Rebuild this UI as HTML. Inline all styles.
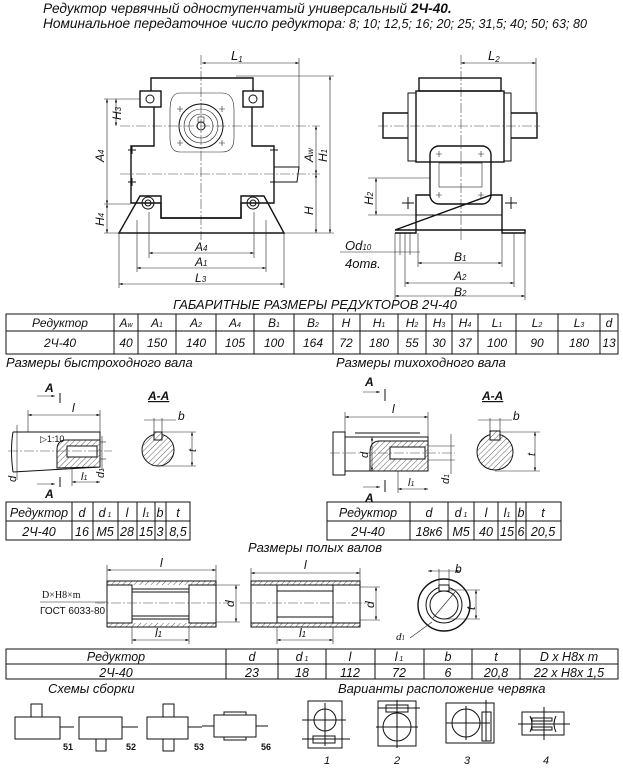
<!DOCTYPE html>
<html><head><meta charset="utf-8"><style>
html,body{margin:0;padding:0;background:#fff;}
svg{display:block;font-family:"Liberation Sans","DejaVu Sans",sans-serif;}
.t{font-style:italic;fill:#111;}
.o{fill:none;stroke:#111;stroke-width:1.4;}
.m{fill:none;stroke:#111;stroke-width:1;}
.d{fill:none;stroke:#222;stroke-width:0.6;}
.c{fill:none;stroke:#444;stroke-width:0.6;stroke-dasharray:10 2 2 2;}
.h{fill:url(#hatch);stroke:#111;stroke-width:1;}
</style></head><body>
<svg width="623" height="768" viewBox="0 0 623 768" xmlns="http://www.w3.org/2000/svg">
<defs>
<pattern id="hatch" width="4" height="4" patternUnits="userSpaceOnUse" patternTransform="rotate(45)">
<rect width="4" height="4" fill="#fff"/><line x1="0" y1="0" x2="0" y2="4" stroke="#333" stroke-width="0.8"/></pattern>
<marker id="a" markerWidth="6" markerHeight="4" refX="6" refY="2" orient="auto-start-reverse"><path d="M0,0L6,2L0,4z" fill="#111"/></marker>
</defs>

<!-- Titles -->
<text x="43" y="13" class="t" font-size="13.7">Редуктор червячный одноступенчатый универсальный <tspan font-weight="bold">2Ч-40.</tspan></text>
<text x="43" y="28" class="t" font-size="13.7">Номинальное передаточное число редуктора<tspan font-size="12.6">: 8; 10; 12,5; 16; 20; 25; 31,5; 40; 50; 63; 80</tspan></text>

<!-- FRONT VIEW -->
<line class="c" x1="201" y1="55" x2="201" y2="240"/>
<line class="c" x1="120" y1="126" x2="320" y2="126"/>
<line class="c" x1="120" y1="174" x2="320" y2="174"/>
<path class="o" d="M151,91 V78 H253 V91"/>
<rect class="o" x="140" y="91" width="21" height="16"/>
<rect class="o" x="243" y="91" width="20" height="16"/>
<circle class="m" cx="150" cy="99" r="4"/><circle class="m" cx="253" cy="99" r="4"/>
<path class="o" d="M154,107 V146 H131 V203 H161 V218 H241 V203 H274 V146 H252 V107"/>
<path class="o" d="M119,233 L140,196 H161 V218 H241 V196 H264 L284,233 Z"/>
<circle class="m" cx="148" cy="203" r="6"/><circle class="m" cx="148" cy="203" r="3"/>
<circle class="m" cx="253" cy="203" r="6"/><circle class="m" cx="253" cy="203" r="3"/>
<line class="d" x1="137" y1="220" x2="137" y2="233"/><line class="d" x1="266" y1="220" x2="266" y2="233"/>
<path class="d" d="M180,93 H222 Q234,93 234,110 V138 Q234,152 222,152 H180 Q170,152 170,138 V110 Q170,93 180,93Z"/>
<circle class="m" cx="201" cy="126" r="22"/><circle class="d" cx="201" cy="126" r="17"/>
<circle class="d" cx="201" cy="126" r="12"/><circle class="m" cx="201" cy="126" r="4"/>
<rect class="d" x="198" y="117" width="6" height="5"/>
<path class="d" d="M177,109h6m-3,-3v6 M219,109h6m-3,-3v6 M177,143h6m-3,-3v6 M219,143h6m-3,-3v6"/>
<path class="m" d="M274,167 H299 L297,182 H274"/>
<path class="m" d="M128,182h8m-4,-4v8 M270,182h8m-4,-4v8 M128,150h8m-4,-4v8 M270,150h8m-4,-4v8"/>
<!-- front dims -->
<line class="d" x1="202" y1="63" x2="299" y2="63" marker-start="url(#a)" marker-end="url(#a)"/>
<line class="d" x1="299" y1="58" x2="299" y2="170"/>
<text x="231" y="60" class="t" font-size="13">L<tspan font-size="8" dy="2">1</tspan></text>
<line class="d" x1="236" y1="76" x2="334" y2="76"/>
<line class="d" x1="104" y1="99" x2="140" y2="99"/>
<line class="d" x1="104" y1="204" x2="131" y2="204"/>
<line class="d" x1="104" y1="233" x2="334" y2="233"/>
<line class="d" x1="116" y1="99" x2="116" y2="126" marker-start="url(#a)" marker-end="url(#a)"/>
<line class="d" x1="107" y1="99" x2="107" y2="204" marker-start="url(#a)" marker-end="url(#a)"/>
<line class="d" x1="107" y1="204" x2="107" y2="233" marker-start="url(#a)" marker-end="url(#a)"/>
<line class="d" x1="316" y1="126" x2="316" y2="174" marker-start="url(#a)" marker-end="url(#a)"/>
<line class="d" x1="330" y1="76" x2="330" y2="233" marker-start="url(#a)" marker-end="url(#a)"/>
<line class="d" x1="316" y1="174" x2="316" y2="233" marker-start="url(#a)" marker-end="url(#a)"/>
<text transform="translate(121,120) rotate(-90)" class="t" font-size="12">H<tspan font-size="8">3</tspan></text>
<text transform="translate(104,162) rotate(-90)" class="t" font-size="12">A<tspan font-size="8">4</tspan></text>
<text transform="translate(104,226) rotate(-90)" class="t" font-size="12">H<tspan font-size="8">4</tspan></text>
<text transform="translate(313,162) rotate(-90)" class="t" font-size="12">A<tspan font-size="8">w</tspan></text>
<text transform="translate(327,162) rotate(-90)" class="t" font-size="12">H<tspan font-size="8">1</tspan></text>
<text transform="translate(313,215) rotate(-90)" class="t" font-size="12">H</text>
<line class="d" x1="149" y1="212" x2="149" y2="258"/><line class="d" x1="254" y1="212" x2="254" y2="258"/>
<line class="d" x1="137" y1="233" x2="137" y2="272"/><line class="d" x1="266" y1="233" x2="266" y2="272"/>
<line class="d" x1="119" y1="233" x2="119" y2="288"/><line class="d" x1="284" y1="233" x2="284" y2="288"/>
<line class="d" x1="149" y1="253" x2="254" y2="253" marker-start="url(#a)" marker-end="url(#a)"/>
<line class="d" x1="137" y1="268" x2="266" y2="268" marker-start="url(#a)" marker-end="url(#a)"/>
<line class="d" x1="119" y1="284" x2="284" y2="284" marker-start="url(#a)" marker-end="url(#a)"/>
<text x="195" y="251" class="t" font-size="12">A<tspan font-size="8">4</tspan></text>
<text x="195" y="266" class="t" font-size="12">A<tspan font-size="8">1</tspan></text>
<text x="195" y="282" class="t" font-size="12">L<tspan font-size="8">3</tspan></text>

<!-- SIDE VIEW -->
<line class="c" x1="461" y1="55" x2="461" y2="240"/>
<line class="c" x1="378" y1="126" x2="540" y2="126"/>
<rect class="o" x="419" y="78" width="82" height="13"/>
<rect class="o" x="416" y="91" width="88" height="71"/>
<rect class="m" x="408" y="93" width="8" height="68"/><rect class="m" x="504" y="93" width="7" height="68"/>
<path class="o" d="M408,113 H383 V138 H408 M511,113 H537 V138 H511"/>
<rect class="o" x="430" y="146" width="61" height="58" rx="9" fill="#fff"/>
<rect class="d" x="439" y="163" width="43" height="24"/>
<path class="d" d="M436,154h6m-3,-3v6 M478,154h6m-3,-3v6 M436,195h6m-3,-3v6 M478,195h6m-3,-3v6"/>
<path class="o" d="M395,233 H416 V195 H430 M491,195 H502 V233 H525 V230 H395 Z"/>
<line class="m" x1="416" y1="215" x2="502" y2="215"/>
<path class="m" d="M402,203h12m-6,-6v12 M505,203h12m-6,-6v12"/>
<line class="d" x1="461" y1="63" x2="536" y2="63" marker-start="url(#a)" marker-end="url(#a)"/>
<line class="d" x1="536" y1="58" x2="536" y2="112"/>
<text x="488" y="60" class="t" font-size="13">L<tspan font-size="8" dy="2">2</tspan></text>
<line class="d" x1="368" y1="178" x2="430" y2="178"/><line class="d" x1="368" y1="215" x2="416" y2="215"/>
<line class="d" x1="376" y1="178" x2="376" y2="215" marker-start="url(#a)" marker-end="url(#a)"/>
<text transform="translate(373,205) rotate(-90)" class="t" font-size="12">H<tspan font-size="8">2</tspan></text>
<line class="d" x1="418" y1="233" x2="418" y2="267"/><line class="d" x1="502" y1="233" x2="502" y2="267"/>
<line class="d" x1="405" y1="233" x2="405" y2="287"/><line class="d" x1="514" y1="233" x2="514" y2="287"/>
<line class="d" x1="395" y1="233" x2="395" y2="300"/><line class="d" x1="525" y1="233" x2="525" y2="300"/>
<line class="d" x1="400" y1="233" x2="400" y2="255"/><line class="d" x1="410" y1="233" x2="410" y2="255"/>
<line class="d" x1="340" y1="252" x2="420" y2="252"/>
<line class="d" x1="418" y1="263" x2="502" y2="263" marker-start="url(#a)" marker-end="url(#a)"/>
<line class="d" x1="405" y1="283" x2="514" y2="283" marker-start="url(#a)" marker-end="url(#a)"/>
<line class="d" x1="395" y1="296" x2="525" y2="296" marker-start="url(#a)" marker-end="url(#a)"/>
<text x="454" y="261" class="t" font-size="12">B<tspan font-size="8">1</tspan></text>
<text x="454" y="280" class="t" font-size="12">A<tspan font-size="8">2</tspan></text>
<text x="454" y="296" class="t" font-size="12">B<tspan font-size="8">2</tspan></text>
<text x="345" y="250" class="t" font-size="13">Od<tspan font-size="8">10</tspan></text>
<text x="345" y="268" class="t" font-size="13">4отв.</text>

<!-- TABLE 1 -->
<text x="315" y="309" class="t" font-size="13" text-anchor="middle">ГАБАРИТНЫЕ РАЗМЕРЫ РЕДУКТОРОВ 2Ч-40</text>
<rect class="m" x="6" y="314" width="612" height="40"/>
<line class="m" x1="6" y1="331" x2="618" y2="331"/>
<g class="m">
<line x1="114" y1="314" x2="114" y2="354"/><line x1="138" y1="314" x2="138" y2="354"/><line x1="176" y1="314" x2="176" y2="354"/>
<line x1="216" y1="314" x2="216" y2="354"/><line x1="254" y1="314" x2="254" y2="354"/><line x1="294" y1="314" x2="294" y2="354"/>
<line x1="333" y1="314" x2="333" y2="354"/><line x1="360" y1="314" x2="360" y2="354"/><line x1="398" y1="314" x2="398" y2="354"/>
<line x1="426" y1="314" x2="426" y2="354"/><line x1="452" y1="314" x2="452" y2="354"/><line x1="478" y1="314" x2="478" y2="354"/>
<line x1="516" y1="314" x2="516" y2="354"/><line x1="558" y1="314" x2="558" y2="354"/><line x1="600" y1="314" x2="600" y2="354"/>
</g>
<g class="t" font-size="12" text-anchor="middle">
<text x="60" y="327">Редуктор</text><text x="126" y="327">A<tspan font-size="7">w</tspan></text><text x="157" y="327">A<tspan font-size="7">1</tspan></text>
<text x="196" y="327">A<tspan font-size="7">2</tspan></text><text x="235" y="327">A<tspan font-size="7">4</tspan></text><text x="274" y="327">B<tspan font-size="7">1</tspan></text>
<text x="313" y="327">B<tspan font-size="7">2</tspan></text><text x="346" y="327">H</text><text x="379" y="327">H<tspan font-size="7">1</tspan></text>
<text x="412" y="327">H<tspan font-size="7">2</tspan></text><text x="439" y="327">H<tspan font-size="7">3</tspan></text><text x="465" y="327">H<tspan font-size="7">4</tspan></text>
<text x="497" y="327">L<tspan font-size="7">1</tspan></text><text x="537" y="327">L<tspan font-size="7">2</tspan></text><text x="579" y="327">L<tspan font-size="7">3</tspan></text>
<text x="609" y="327">d</text>
<text x="60" y="347">2Ч-40</text><text x="126" y="347">40</text><text x="157" y="347">150</text><text x="196" y="347">140</text>
<text x="235" y="347">105</text><text x="274" y="347">100</text><text x="313" y="347">164</text><text x="346" y="347">72</text>
<text x="379" y="347">180</text><text x="412" y="347">55</text><text x="439" y="347">30</text><text x="465" y="347">37</text>
<text x="497" y="347">100</text><text x="537" y="347">90</text><text x="579" y="347">180</text><text x="609" y="347">13</text>
</g>

<text x="6" y="367" class="t" font-size="13">Размеры быстроходного вала</text>
<text x="336" y="367" class="t" font-size="13">Размеры тихоходного вала</text>

<!-- fast shaft -->
<text x="45" y="392" class="t" font-size="12" font-weight="bold">A</text>
<line class="d" x1="37" y1="396" x2="55" y2="396" marker-end="url(#a)"/><line class="m" x1="60" y1="393" x2="60" y2="403"/>
<text x="45" y="498" class="t" font-size="12" font-weight="bold">A</text>
<line class="d" x1="37" y1="484" x2="55" y2="484" marker-end="url(#a)"/><line class="m" x1="60" y1="477" x2="60" y2="487"/>
<line class="d" x1="28" y1="415" x2="100" y2="415" marker-start="url(#a)" marker-end="url(#a)"/>
<line class="d" x1="28" y1="410" x2="28" y2="432"/><line class="d" x1="100" y1="410" x2="100" y2="432"/>
<text x="72" y="412" class="t" font-size="12">l</text>
<path class="m" d="M13,432 H100 V467 L13,472"/>
<path class="m" d="M13,432 Q10,450 13,472"/>
<path class="h" d="M66,440 H100 V467 L57,468 V450 Q57,440 66,440Z"/>
<rect x="67" y="446" width="30" height="11" fill="#fff" stroke="#111" stroke-width="1"/>
<line class="c" x1="8" y1="451" x2="112" y2="451"/>
<text x="40" y="442" font-size="9" fill="#111">▷1:10</text>
<line class="d" x1="100" y1="442" x2="106" y2="442"/><line class="d" x1="100" y1="459" x2="106" y2="459"/>
<line class="d" x1="102" y1="436" x2="102" y2="470"/>
<text transform="translate(104,478) rotate(-90)" class="t" font-size="11">d<tspan font-size="7">1</tspan></text>
<line class="d" x1="17" y1="425" x2="17" y2="480"/>
<text transform="translate(16,482) rotate(-90)" class="t" font-size="11">d</text>
<line class="d" x1="72" y1="482" x2="100" y2="482" marker-start="url(#a)" marker-end="url(#a)"/>
<line class="d" x1="72" y1="468" x2="72" y2="486"/>
<text x="81" y="480" class="t" font-size="11">l<tspan font-size="7">1</tspan></text>
<text x="148" y="400" class="t" font-size="12" font-weight="bold" text-decoration="underline">A-A</text>
<circle class="h" cx="158" cy="450" r="16"/>
<rect x="154" y="432" width="8" height="8" class="h"/>
<line class="d" x1="144" y1="420" x2="176" y2="420"/><text x="178" y="420" class="t" font-size="12">b</text>
<line class="d" x1="154" y1="418" x2="154" y2="432"/><line class="d" x1="162" y1="418" x2="162" y2="432"/>
<line class="d" x1="162" y1="432" x2="196" y2="432"/><line class="d" x1="158" y1="466" x2="196" y2="466"/>
<line class="d" x1="192" y1="432" x2="192" y2="466" marker-start="url(#a)" marker-end="url(#a)"/>
<text transform="translate(196,452) rotate(-90)" class="t" font-size="11">t</text>
<!-- fast table -->
<rect class="m" x="6" y="502" width="184" height="38"/><line class="m" x1="6" y1="521" x2="190" y2="521"/>
<g class="m"><line x1="72" y1="502" x2="72" y2="540"/><line x1="93" y1="502" x2="93" y2="540"/><line x1="118" y1="502" x2="118" y2="540"/>
<line x1="137" y1="502" x2="137" y2="540"/><line x1="155" y1="502" x2="155" y2="540"/><line x1="166" y1="502" x2="166" y2="540"/></g>
<g class="t" font-size="12.5" text-anchor="middle">
<text x="39" y="517">Редуктор</text><text x="82" y="517">d</text><text x="105" y="517">d<tspan font-size="7"> 1</tspan></text><text x="127" y="517">l</text>
<text x="146" y="517">l<tspan font-size="7">1</tspan></text><text x="160" y="517">b</text><text x="178" y="517">t</text>
<text x="39" y="536">2Ч-40</text><text x="82" y="536">16</text><text x="105" y="536">M5</text><text x="127" y="536">28</text>
<text x="146" y="536">15</text><text x="160" y="536">3</text><text x="178" y="536">8,5</text></g>

<!-- slow shaft -->
<text x="365" y="386" class="t" font-size="12" font-weight="bold">A</text>
<line class="d" x1="363" y1="392" x2="380" y2="392" marker-end="url(#a)"/><line class="m" x1="385" y1="389" x2="385" y2="401"/>
<text x="365" y="502" class="t" font-size="12" font-weight="bold">A</text>
<line class="d" x1="363" y1="487" x2="380" y2="487" marker-end="url(#a)"/><line class="m" x1="385" y1="480" x2="385" y2="492"/>
<line class="d" x1="345" y1="417" x2="428" y2="417" marker-start="url(#a)" marker-end="url(#a)"/>
<line class="d" x1="345" y1="412" x2="345" y2="432"/><line class="d" x1="428" y1="412" x2="428" y2="437"/>
<text x="392" y="413" class="t" font-size="12">l</text>
<rect class="m" x="333" y="432" width="12" height="43"/>
<rect class="m" x="345" y="437" width="83" height="34"/>
<line class="m" x1="355" y1="433" x2="420" y2="433"/>
<path class="h" d="M380,441 H428 V471 H370 V452 Q370,441 380,441Z"/>
<rect x="390" y="447" width="35" height="12" fill="#fff" stroke="#111" stroke-width="1"/>
<line class="c" x1="330" y1="453" x2="455" y2="453"/>
<line class="d" x1="372" y1="437" x2="372" y2="471" marker-start="url(#a)" marker-end="url(#a)"/>
<text transform="translate(368,458) rotate(-90)" class="t" font-size="11">d</text>
<line class="d" x1="428" y1="446" x2="455" y2="446"/><line class="d" x1="428" y1="460" x2="455" y2="460"/>
<line class="d" x1="451" y1="434" x2="451" y2="474"/>
<text transform="translate(449,484) rotate(-90)" class="t" font-size="11">d<tspan font-size="7">1</tspan></text>
<line class="d" x1="398" y1="489" x2="428" y2="489" marker-start="url(#a)" marker-end="url(#a)"/>
<line class="d" x1="398" y1="471" x2="398" y2="493"/>
<text x="408" y="486" class="t" font-size="11">l<tspan font-size="7">1</tspan></text>
<text x="482" y="400" class="t" font-size="12" font-weight="bold" text-decoration="underline">A-A</text>
<circle class="h" cx="495" cy="452" r="18"/>
<rect x="490" y="431" width="10" height="9" class="h"/>
<line class="d" x1="478" y1="420" x2="512" y2="420"/><text x="513" y="420" class="t" font-size="12">b</text>
<line class="d" x1="490" y1="418" x2="490" y2="431"/><line class="d" x1="500" y1="418" x2="500" y2="431"/>
<line class="d" x1="500" y1="432" x2="540" y2="432"/><line class="d" x1="495" y1="471" x2="540" y2="471"/>
<line class="d" x1="535" y1="432" x2="535" y2="471" marker-start="url(#a)" marker-end="url(#a)"/>
<text transform="translate(535,456) rotate(-90)" class="t" font-size="11">t</text>
<!-- slow table -->
<rect class="m" x="327" y="502" width="234" height="38"/><line class="m" x1="327" y1="521" x2="561" y2="521"/>
<g class="m"><line x1="410" y1="502" x2="410" y2="540"/><line x1="448" y1="502" x2="448" y2="540"/><line x1="474" y1="502" x2="474" y2="540"/>
<line x1="498" y1="502" x2="498" y2="540"/><line x1="516" y1="502" x2="516" y2="540"/><line x1="526" y1="502" x2="526" y2="540"/></g>
<g class="t" font-size="12.5" text-anchor="middle">
<text x="368" y="517">Редуктор</text><text x="429" y="517">d</text><text x="461" y="517">d<tspan font-size="7"> 1</tspan></text><text x="486" y="517">l</text>
<text x="507" y="517">l<tspan font-size="7">1</tspan></text><text x="521" y="517">b</text><text x="543" y="517">t</text>
<text x="368" y="536">2Ч-40</text><text x="429" y="536">18к6</text><text x="461" y="536">M5</text><text x="486" y="536">40</text>
<text x="507" y="536">15</text><text x="521" y="536">6</text><text x="543" y="536">20,5</text></g>

<!-- hollow shafts -->
<text x="315" y="552" class="t" font-size="13" text-anchor="middle">Размеры полых валов</text>
<text x="42" y="598" font-family="Liberation Serif,serif" font-size="10" fill="#111">D×H8×m</text>
<text x="40" y="614" font-size="10" fill="#111">ГОСТ 6033-80</text>
<line class="d" x1="40" y1="602" x2="140" y2="602"/><line class="d" x1="138" y1="603" x2="150" y2="590"/>
<rect class="h" x="107" y="581" width="109" height="46"/>
<rect x="107" y="585" width="109" height="38" fill="#fff" stroke="none"/>
<path class="m" d="M107,585 H132 V589 H189 V585 H216 M107,623 H132 V619 H189 V623 H216 M132,585 V623 M189,585 V623 M107,581 V627 M216,581 V627"/>
<line class="m" x1="132" y1="592" x2="189" y2="592"/><line class="m" x1="132" y1="616" x2="189" y2="616"/>
<line class="c" x1="95" y1="603" x2="230" y2="603"/>
<line class="d" x1="107" y1="570" x2="216" y2="570" marker-start="url(#a)" marker-end="url(#a)"/>
<line class="d" x1="107" y1="565" x2="107" y2="581"/><line class="d" x1="216" y1="565" x2="216" y2="581"/>
<text x="160" y="567" class="t" font-size="12">l</text>
<line class="d" x1="216" y1="585" x2="240" y2="585"/><line class="d" x1="216" y1="622" x2="240" y2="622"/>
<line class="d" x1="236" y1="585" x2="236" y2="622" marker-start="url(#a)" marker-end="url(#a)"/>
<text transform="translate(234,607) rotate(-90)" class="t" font-size="12">d</text>
<line class="d" x1="132" y1="627" x2="132" y2="644"/><line class="d" x1="189" y1="627" x2="189" y2="644"/>
<line class="d" x1="132" y1="640" x2="189" y2="640" marker-start="url(#a)" marker-end="url(#a)"/>
<text x="155" y="637" class="t" font-size="12">l<tspan font-size="8">1</tspan></text>

<rect class="h" x="251" y="581" width="109" height="46"/>
<rect x="251" y="585" width="109" height="38" fill="#fff" stroke="none"/>
<path class="m" d="M251,585 H360 M251,623 H360 M277,585 V623 M333,585 V623 M251,581 V627 M360,581 V627"/>
<line class="m" x1="277" y1="591" x2="333" y2="591"/><line class="m" x1="277" y1="617" x2="333" y2="617"/>
<line class="c" x1="240" y1="603" x2="372" y2="603"/>
<line class="d" x1="251" y1="573" x2="360" y2="573" marker-start="url(#a)" marker-end="url(#a)"/>
<line class="d" x1="251" y1="568" x2="251" y2="581"/><line class="d" x1="360" y1="568" x2="360" y2="581"/>
<text x="304" y="569" class="t" font-size="12">l</text>
<line class="d" x1="360" y1="587" x2="380" y2="587"/><line class="d" x1="360" y1="620" x2="380" y2="620"/>
<line class="d" x1="376" y1="587" x2="376" y2="620" marker-start="url(#a)" marker-end="url(#a)"/>
<text transform="translate(374,608) rotate(-90)" class="t" font-size="12">d</text>
<line class="d" x1="277" y1="627" x2="277" y2="644"/><line class="d" x1="333" y1="627" x2="333" y2="644"/>
<line class="d" x1="277" y1="640" x2="333" y2="640" marker-start="url(#a)" marker-end="url(#a)"/>
<text x="299" y="637" class="t" font-size="12">l<tspan font-size="8">1</tspan></text>

<circle class="o" cx="444" cy="605" r="26"/>
<circle class="m" cx="444" cy="605" r="18"/>
<circle class="m" cx="444" cy="605" r="14"/>
<rect x="439" y="585" width="10" height="6" fill="#fff" stroke="#111" stroke-width="1"/>
<line class="d" x1="433" y1="618" x2="455" y2="592"/>
<line class="d" x1="428" y1="571" x2="460" y2="571" marker-start="url(#a)" marker-end="url(#a)"/>
<line class="d" x1="439" y1="569" x2="439" y2="585"/><line class="d" x1="449" y1="569" x2="449" y2="585"/>
<text x="455" y="573" class="t" font-size="12">b</text>
<line class="d" x1="449" y1="590" x2="480" y2="590"/><line class="d" x1="444" y1="619" x2="480" y2="619"/>
<line class="d" x1="476" y1="590" x2="476" y2="619" marker-start="url(#a)" marker-end="url(#a)"/>
<text transform="translate(475,610) rotate(-90)" class="t" font-size="12">t</text>
<line class="d" x1="410" y1="638" x2="432" y2="622"/>
<text x="396" y="640" class="t" font-size="11" font-family="Liberation Serif,serif">d<tspan font-size="7">1</tspan></text>

<!-- table 3 -->
<rect class="m" x="6" y="649" width="612" height="30"/><line class="m" x1="6" y1="664" x2="618" y2="664"/>
<g class="m"><line x1="226" y1="649" x2="226" y2="679"/><line x1="278" y1="649" x2="278" y2="679"/><line x1="326" y1="649" x2="326" y2="679"/>
<line x1="375" y1="649" x2="375" y2="679"/><line x1="424" y1="649" x2="424" y2="679"/><line x1="472" y1="649" x2="472" y2="679"/><line x1="520" y1="649" x2="520" y2="679"/></g>
<g class="t" font-size="12.5" text-anchor="middle">
<text x="116" y="661">Редуктор</text><text x="252" y="661">d</text><text x="302" y="661">d<tspan font-size="7"> 1</tspan></text><text x="350" y="661">l</text>
<text x="399" y="661">l<tspan font-size="7"> 1</tspan></text><text x="448" y="661">b</text><text x="496" y="661">t</text><text x="569" y="661">D x H8x m</text>
<text x="116" y="677">2Ч-40</text><text x="252" y="677">23</text><text x="302" y="677">18</text><text x="350" y="677">112</text>
<text x="399" y="677">72</text><text x="448" y="677">6</text><text x="496" y="677">20,8</text><text x="569" y="677">22 x  H8x 1,5</text></g>

<text x="48" y="693" class="t" font-size="13">Схемы сборки</text>
<text x="338" y="693" class="t" font-size="13">Варианты расположение червяка</text>

<!-- assembly schemes -->
<g class="m">
<rect x="15" y="717" width="45" height="22"/><rect x="31" y="704" width="11" height="13"/><line x1="60" y1="727" x2="74" y2="727"/>
<rect x="79" y="717" width="43" height="22"/><rect x="96" y="739" width="10" height="12"/><line x1="122" y1="727" x2="138" y2="727"/>
<rect x="147" y="717" width="41" height="22"/><rect x="163" y="704" width="11" height="13"/><rect x="163" y="739" width="11" height="12"/><line x1="188" y1="727" x2="202" y2="727"/>
<rect x="214" y="715" width="42" height="22"/><rect x="224" y="712" width="22" height="3"/><rect x="224" y="737" width="22" height="3"/>
<line x1="202" y1="726" x2="214" y2="726"/><line x1="256" y1="726" x2="268" y2="726"/>
</g>
<g font-size="9" font-weight="bold" fill="#111"><text x="63" y="750">51</text><text x="126" y="750">52</text><text x="194" y="750">53</text><text x="261" y="750">56</text></g>

<!-- worm variants -->
<g class="m">
<rect x="308" y="701" width="34" height="47"/><circle cx="325" cy="720" r="11"/>
<line x1="302" y1="720" x2="346" y2="720"/><line x1="325" y1="703" x2="325" y2="746"/>
<rect x="313" y="736" width="22" height="7"/><line x1="302" y1="739" x2="350" y2="739"/>
<rect x="378" y="701" width="38" height="45"/><rect x="386" y="705" width="22" height="7"/>
<line x1="378" y1="708" x2="420" y2="708"/><circle cx="397" cy="727" r="14"/>
<line x1="376" y1="727" x2="418" y2="727"/><line x1="397" y1="700" x2="397" y2="748"/>
<rect x="446" y="703" width="48" height="40"/><circle cx="466" cy="723" r="14"/>
<line x1="446" y1="723" x2="490" y2="723"/><line x1="466" y1="706" x2="466" y2="740"/>
<rect x="482" y="712" width="9" height="29"/><line x1="486" y1="700" x2="486" y2="741"/>
<rect x="522" y="712" width="42" height="23"/>
<rect x="532" y="718" width="20" height="3"/><rect x="532" y="727" width="20" height="3"/>
<line x1="518" y1="724" x2="570" y2="724"/><line x1="544" y1="707" x2="544" y2="740"/>
<path d="M530,716 Q534,724 530,732 M556,716 Q552,724 556,732"/>
</g>
<g class="t" font-size="11"><text x="324" y="764">1</text><text x="394" y="764">2</text><text x="464" y="764">3</text><text x="543" y="764">4</text></g>
</svg>
</body></html>
